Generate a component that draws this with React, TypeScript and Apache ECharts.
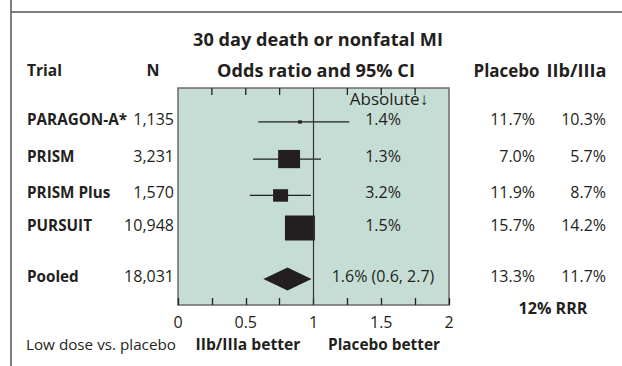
import React, { useEffect, useRef } from "react";
import * as echarts from "echarts";

const trials = ["PARAGON-A*", "PRISM", "PRISM Plus", "PURSUIT", "Pooled"];
const nValues = ["1,135", "3,231", "1,570", "10,948", "18,031"];
const rowPos = [0.97, 2.03, 3.07, 4.0, 5.46];
const orEst = [0.9, 0.82, 0.757, 0.9];
const ciLow = [0.593, 0.554, 0.531, 0.82];
const ciHigh = [1.264, 1.055, 0.981, 0.98];
const weights = [0.13, 0.73, 0.5, 1.0];
const pooled = { low: 0.63, est: 0.808, high: 0.985 };
const absoluteDiff = ["1.4%", "1.3%", "3.2%", "1.5%", "1.6% (0.6, 2.7)"];
const placeboRates = ["11.7%", "7.0%", "11.9%", "15.7%", "13.3%"];
const iibRates = ["10.3%", "5.7%", "8.7%", "14.2%", "11.7%"];
const xTickLabels = [0, 0.5, 1, 1.5, 2];
const topTicks = [0.25, 0.5, 0.75, 1.25, 1.5, 1.75];

const FONT_NAME = "Open Sans";
const FONT = "'Open Sans', 'Noto Sans', sans-serif";
const INK = "#231f20";

let measureCtx: CanvasRenderingContext2D | null = null;
function fit(text: string, bold: boolean, width: number): number {
  if (!measureCtx) measureCtx = document.createElement("canvas").getContext("2d");
  if (!measureCtx) return 16;
  measureCtx.font = `${bold ? "bold " : ""}100px '${FONT_NAME}'`;
  const w = measureCtx.measureText(text).width || 1;
  return Math.max(13, Math.min(19, (100 * width) / w));
}

export default function App() {
  const ref = useRef<HTMLDivElement>(null);
  useEffect(() => {
    if (!ref.current) return;
    const chart = echarts.init(ref.current, null, { renderer: "svg" });

    const studyData = orEst.map((e, i) => [e, rowPos[i], ciLow[i], ciHigh[i], weights[i]]);
    const pooledData = [[pooled.est, rowPos[4], pooled.low, pooled.high]];
    const textData = trials.map((t, i) => [1, rowPos[i], i]);
    const topTickData = topTicks.map((v) => [v, 0]);

    const labelSize = fit("PARAGON-A*", true, 100);
    const numSize = 16;

    const txt = (text: string, x: number, y: number, align: string, bold: boolean, size: number) => ({
      type: "text",
      x,
      y,
      style: {
        text,
        fill: INK,
        font: `${bold ? "bold " : ""}${size.toFixed(2)}px ${FONT}`,
        align,
        verticalAlign: "middle",
      },
    });
    const ftxt = (text: string, x: number, y: number, align: string, bold: boolean, width: number) =>
      txt(text, x, y, align, bold, fit(text, bold, width));

    chart.setOption({
      animation: false,
      grid: {
        left: 178,
        top: 88,
        width: 271,
        height: 217,
        show: true,
        backgroundColor: "#c5ddd5",
        borderColor: "#6a6a6a",
        borderWidth: 1.5,
        containLabel: false,
      },
      xAxis: {
        type: "value",
        min: 0,
        max: 2,
        interval: 0.25,
        position: "bottom",
        axisLine: { show: false, onZero: false },
        splitLine: { show: false },
        axisTick: { show: true, inside: true, length: 7, lineStyle: { color: INK, width: 1.3 } },
        axisLabel: {
          margin: 9,
          color: INK,
          fontFamily: FONT,
          fontSize: 16,
          formatter: (v: number) =>
            xTickLabels.some((t) => Math.abs(t - v) < 1e-6) ? String(v) : "",
        },
      },
      yAxis: { type: "value", min: 0, max: 6.2, inverse: true, show: false },
      series: [
        {
          type: "custom",
          data: topTickData,
          clip: false,
          z: 3,
          renderItem: (params: any, api: any) => {
            const p = api.coord([api.value(0), api.value(1)]);
            return {
              type: "line",
              shape: { x1: p[0], y1: p[1], x2: p[0], y2: p[1] + 7 },
              style: { stroke: INK, lineWidth: 1.3 },
            };
          },
        },
        {
          type: "custom",
          data: studyData,
          clip: false,
          renderItem: (params: any, api: any) => {
            const est = api.value(0);
            const row = api.value(1);
            const c = api.coord([est, row]);
            const l = api.coord([api.value(2), row]);
            const h = api.coord([api.value(3), row]);
            const w = api.value(4);
            const bw = 30 * w;
            const bh = 25 * w;
            return {
              type: "group",
              children: [
                {
                  type: "line",
                  shape: { x1: l[0], y1: c[1], x2: h[0], y2: c[1] },
                  style: { stroke: INK, lineWidth: 1.3 },
                },
                {
                  type: "rect",
                  shape: { x: c[0] - bw / 2, y: c[1] - bh / 2, width: bw, height: bh },
                  style: { fill: INK },
                },
              ],
            };
          },
          markLine: {
            silent: true,
            symbol: ["none", "none"],
            label: { show: false },
            lineStyle: { color: "#333", width: 1.2, type: "solid" },
            data: [{ xAxis: 1 }],
          },
        },
        {
          type: "custom",
          data: pooledData,
          renderItem: (params: any, api: any) => {
            const row = api.value(1);
            const c = api.coord([api.value(0), row]);
            const l = api.coord([api.value(2), row]);
            const h = api.coord([api.value(3), row]);
            const hh = 11.5;
            return {
              type: "polygon",
              shape: {
                points: [
                  [l[0], c[1]],
                  [c[0], c[1] - hh],
                  [h[0], c[1]],
                  [c[0], c[1] + hh],
                ],
              },
              style: { fill: INK },
            };
          },
        },
        {
          type: "custom",
          data: textData,
          clip: false,
          z: 5,
          renderItem: (params: any, api: any) => {
            const i = api.value(2);
            const y = api.coord([1, api.value(1)])[1] - 3;
            return {
              type: "group",
              children: [
                txt(trials[i], 27, y, "left", true, labelSize),
                txt(nValues[i], 174, y, "right", false, numSize),
                txt(absoluteDiff[i], 383, y, "center", false, numSize),
                txt(placeboRates[i], 535, y, "right", false, numSize),
                txt(iibRates[i], 606, y, "right", false, numSize),
              ],
            };
          },
        },
      ],
      graphic: [
        { type: "line", shape: { x1: 11, y1: 0, x2: 11, y2: 366 }, style: { stroke: "#555", lineWidth: 1.5 } },
        { type: "line", shape: { x1: 11, y1: 12, x2: 622, y2: 12 }, style: { stroke: "#555", lineWidth: 1.5 } },
        ftxt("30 day death or nonfatal MI", 318, 39, "center", true, 250),
        ftxt("Trial", 27, 70, "left", true, 35),
        txt("N", 153, 70, "center", true, 16),
        ftxt("Odds ratio and 95% CI", 316, 70, "center", true, 198),
        ftxt("Placebo", 506.5, 70, "center", true, 66),
        ftxt("IIb/IIIa", 576.5, 70, "center", true, 60),
        txt("Absolute\u2193", 389, 98, "center", false, 17),
        ftxt("12% RRR", 553, 308, "center", true, 69),
        ftxt("Low dose vs. placebo", 26, 344, "left", false, 150),
        ftxt("IIb/IIIa better", 248, 344, "center", true, 105),
        ftxt("Placebo better", 384, 344, "center", true, 112),
      ],
    });
    return () => chart.dispose();
  }, []);
  return (
    <div
      ref={ref}
      style={{ position: "fixed", left: 0, top: 0, width: 622, height: 366, background: "#fff" }}
    />
  );
}
